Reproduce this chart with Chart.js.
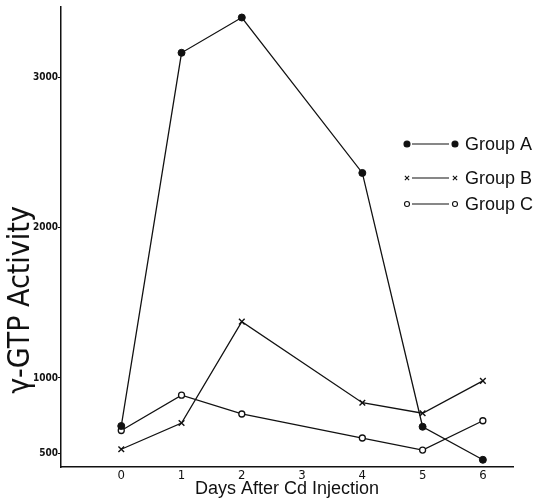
<!DOCTYPE html>
<html>
<head>
<meta charset="utf-8">
<script src="https://cdn.jsdelivr.net/npm/chart.js@4"></script>
<style>
  html, body { margin: 0; padding: 0; background: #fff; }
  #wrap { width: 539px; height: 502px; }
</style>
</head>
<body>
<div id="wrap"><canvas id="gtpChart" width="539" height="502"></canvas></div>
<script>
// values
const days = [0, 1, 2, 4, 5, 6];
const groupA = [680, 3165, 3400, 2365, 675, 455];
const groupB = [525, 700, 1375, 835, 765, 980];
const groupC = [650, 885, 760, 600, 520, 715];
const xTicks = [0, 1, 2, 3, 4, 5, 6];
const yTicks = [500, 1000, 2000, 3000];
const groupNames = ['Group A', 'Group B', 'Group C'];

const ink = '#111';

function toPoints(values) {
    return days.map((d, i) => ({ x: d, y: values[i] }));
}

// legend + rotated y title drawn by hand so they sit where the original has them
const extrasPlugin = {
    id: 'extras',
    afterDraw(chart) {
        const ctx = chart.ctx;
        ctx.save();

        // y axis title
        ctx.save();
        ctx.translate(21, 300);
        ctx.rotate(-Math.PI / 2);
        ctx.font = '30px "DejaVu Sans Condensed", "DejaVu Sans", sans-serif';
        ctx.fillStyle = ink;
        ctx.textAlign = 'center';
        ctx.textBaseline = 'middle';
        ctx.fillText('γ-GTP Activity', 0, 0);
        ctx.restore();

        // legend rows (smaller markers than in the plot)
        const rows = [144, 178, 204];
        const sizes = [3, 3, 2.5];
        chart.data.datasets.forEach((ds, i) => {
            const y = rows[i];
            ctx.strokeStyle = ink;
            ctx.lineWidth = 1.2;
            ctx.beginPath();
            ctx.moveTo(412, y);
            ctx.lineTo(449, y);
            ctx.stroke();
            const opts = {
                pointStyle: ds.pointStyle,
                radius: sizes[i],
                borderWidth: 1.1
            };
            [407, 455].forEach(px => {
                ctx.fillStyle = ds.pointBackgroundColor;
                ctx.strokeStyle = ink;
                ctx.lineWidth = 1.1;
                Chart.helpers.drawPoint(ctx, opts, px, y);
            });
            ctx.fillStyle = ink;
            ctx.font = '18px "Liberation Sans", sans-serif';
            ctx.textAlign = 'left';
            ctx.textBaseline = 'middle';
            ctx.fillText(groupNames[i], 465, y + 1);
        });
        ctx.restore();
    }
};

const ctx = document.getElementById('gtpChart').getContext('2d');
new Chart(ctx, {
    type: 'line',
    data: {
        datasets: [
            {
                label: groupNames[0],
                data: toPoints(groupA),
                borderColor: ink,
                borderWidth: 1.3,
                pointStyle: 'circle',
                pointRadius: 3.5,
                pointBackgroundColor: ink,
                pointBorderColor: ink,
                pointBorderWidth: 1
            },
            {
                label: groupNames[1],
                data: toPoints(groupB),
                borderColor: ink,
                borderWidth: 1.3,
                pointStyle: 'crossRot',
                pointRadius: 4,
                pointBackgroundColor: '#fff',
                pointBorderColor: ink,
                pointBorderWidth: 1.4
            },
            {
                label: groupNames[2],
                data: toPoints(groupC),
                borderColor: ink,
                borderWidth: 1.3,
                pointStyle: 'circle',
                pointRadius: 3,
                pointBackgroundColor: '#fff',
                pointBorderColor: ink,
                pointBorderWidth: 1.3
            }
        ]
    },
    options: {
        responsive: false,
        animation: false,
        layout: { padding: { left: 0, top: 7, right: 26, bottom: 0 } },
        plugins: {
            legend: { display: false },
            tooltip: { enabled: false }
        },
        scales: {
            x: {
                type: 'linear',
                min: -1,
                max: 6.5,
                afterBuildTicks: scale => { scale.ticks = xTicks.map(v => ({ value: v })); },
                afterFit: scale => { scale.height = 35; },
                grid: { display: false, drawTicks: false, tickLength: 0 },
                border: { display: true, color: ink, width: 1.5 },
                ticks: {
                    color: ink,
                    padding: 1,
                    font: { family: '"DejaVu Sans Condensed", "DejaVu Sans", sans-serif', size: 13 }
                },
                title: {
                    display: true,
                    text: 'Days After Cd Injection',
                    color: ink,
                    padding: { top: 0, bottom: 2 },
                    font: { family: '"Liberation Sans", sans-serif', size: 18 }
                }
            },
            y: {
                min: 407,
                max: 3470,
                afterBuildTicks: scale => { scale.ticks = yTicks.map(v => ({ value: v })); },
                afterFit: scale => { scale.width = 61; },
                grid: { drawOnChartArea: false, tickLength: 3, color: ink },
                border: { display: true, color: ink, width: 1.5 },
                ticks: {
                    color: ink,
                    padding: 0,
                    font: { family: '"DejaVu Sans Condensed", "DejaVu Sans", sans-serif', size: 10, weight: 'bold' },
                    callback: v => String(v)
                }
            }
        }
    },
    plugins: [extrasPlugin]
});
</script>
</body>
</html>
